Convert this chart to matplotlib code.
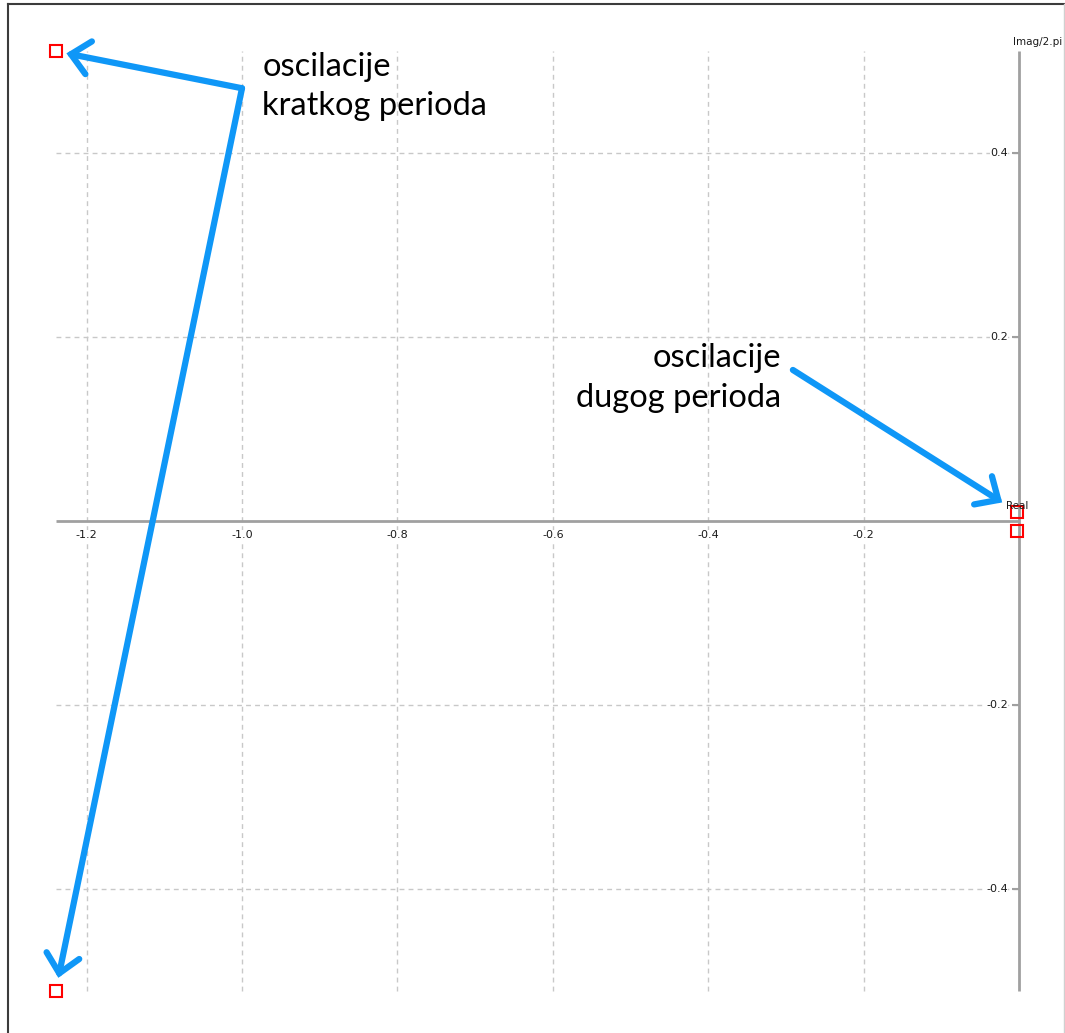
import numpy as np
import matplotlib
matplotlib.use("Agg")
import matplotlib.pyplot as plt
from matplotlib.lines import Line2D

# poles (real, imag/2pi)
poles_re = [-1.240, -1.240, -0.002, -0.002]
poles_im = [0.511, -0.511, 0.010, -0.011]

xticks = [-1.2, -1.0, -0.8, -0.6, -0.4, -0.2]
yticks = [0.4, 0.2, -0.2, -0.4]

label_short = "oscilacije\nkratkog perioda"
label_long = "oscilacije\ndugog perioda"

blue = '#0f97f7'
axcol = '#a0a0a0'
gridcol = '#c8c8c8'

W, H = 1065, 1033
fig = plt.figure(figsize=(W / 100, H / 100), dpi=100)
ax = fig.add_axes([0, 0, 1, 1])
# pixel scale: 777 px per unit in x, 920 px per unit in y, origin at (1019, 521)
ax.set_xlim(-1019 / 777, (W - 1019) / 777)
ax.set_ylim(-(H - 521.3) / 920, 521.3 / 920)
ax.axis('off')

xmin = min(poles_re)
ymin, ymax = min(poles_im), max(poles_im)

# grid
ax.vlines(xticks, ymin, ymax, colors=gridcol, lw=1, linestyles=(0, (3.5, 3)), zorder=1)
ax.hlines(yticks, xmin, 0, colors=gridcol, lw=1, linestyles=(0, (3.5, 3)), zorder=1)

# axes through origin
ax.plot([xmin, 0], [0, 0], color=axcol, lw=2, zorder=2, solid_capstyle='butt')
ax.plot([0, 0], [ymin, ymax], color=axcol, lw=2, zorder=2, solid_capstyle='butt')
ax.hlines(yticks, -0.009, 0, colors=axcol, lw=1.5, zorder=2)

for t in xticks:
    ax.annotate('%.1f' % t, xy=(t, 0), xytext=(0, -6.5), textcoords='offset points',
                ha='center', va='top', fontsize=8, color='#1a1a1a',
                bbox=dict(fc='white', ec='none', pad=0.3))
for t in yticks:
    ax.annotate('%.1f' % t, xy=(0, t), xytext=(-8, 0), textcoords='offset points',
                ha='right', va='center', fontsize=8, color='#1a1a1a',
                bbox=dict(fc='white', ec='none', pad=0.3))

ax.annotate('Imag/2.pi', xy=(0, ymax), xytext=(-4, 3), textcoords='offset points',
            ha='left', va='bottom', fontsize=7.5, color='#1a1a1a')
ax.annotate('Real', xy=(0, 0), xytext=(-9, 11), textcoords='offset points',
            ha='left', va='center', fontsize=7.5, color='#1a1a1a', zorder=5)

# poles
ax.plot(poles_re, poles_im, 's', mfc='none', mec='red', ms=8.5, mew=1.5,
        clip_on=False, zorder=4)

# annotations
aprops = dict(arrowstyle='->,head_length=0.65,head_width=0.6', lw=4.5, color=blue,
              shrinkA=0, mutation_scale=20, capstyle='round', joinstyle='miter')
corner = (-1.0, 0.4707)
ax.annotate('', xy=(poles_re[0], poles_im[0]), xytext=corner,
            arrowprops=dict(aprops, shrinkB=8), zorder=3)
ax.annotate('', xy=(poles_re[1], poles_im[1]), xytext=corner,
            arrowprops=dict(aprops, shrinkB=10), zorder=3)
ax.annotate('', xy=(poles_re[2], poles_im[2]), xytext=(-0.291, 0.1645),
            arrowprops=dict(aprops, shrinkB=13), zorder=3)

ax.text(-0.974, 0.5105, label_short, ha='left', va='top', fontsize=23.5,
        family='Lato', linespacing=1.4, color='black')
ax.text(-0.306, 0.1935, label_long, ha='right', va='top', fontsize=23.5,
        family='Lato', linespacing=1.4, color='black')

# screenshot frame
fig.add_artist(Line2D([8 / W, 8 / W], [0, 1 - 4 / H], transform=fig.transFigure,
                      color='#3c3c3c', lw=1.5))
fig.add_artist(Line2D([8 / W, 1], [1 - 4 / H, 1 - 4 / H], transform=fig.transFigure,
                      color='#3c3c3c', lw=1.5))
fig.add_artist(Line2D([1 - 1 / W, 1 - 1 / W], [0, 1 - 4 / H], transform=fig.transFigure,
                      color='#d0d0d0', lw=1))

fig.savefig('out.png', dpi=100)
